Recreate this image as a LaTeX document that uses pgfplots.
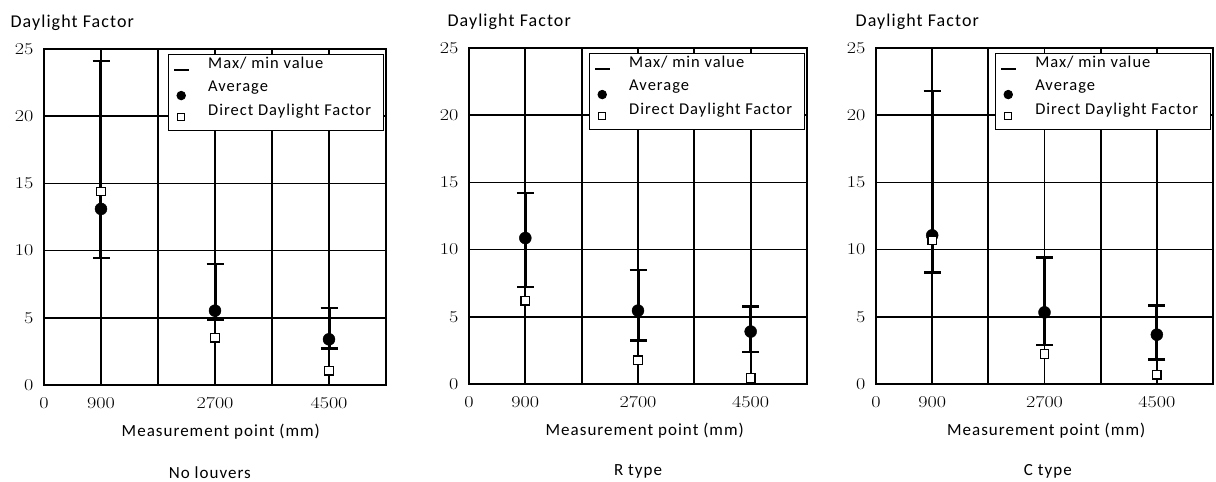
\documentclass[border=0pt]{standalone}
\usepackage{fontspec}
\setmainfont{Carlito}[LetterSpace=6]
\newfontfamily\tickfont{Latin Modern Roman}[FakeStretch=1.22]
\usepackage{pgfplots}
\usepackage{pgfplotstable}
\pgfplotsset{compat=1.18}

\pgfplotstableread{
x avg max min dir
900 13.1 24.1 9.45 14.4
2700 5.53 9.0 4.84 3.52
4500 3.4 5.75 2.73 1.06
}\dataA
\pgfplotstableread{
x avg max min dir
900 10.86 14.2 7.2 6.2
2700 5.46 8.46 3.25 1.76
4500 3.9 5.78 2.38 0.45
}\dataB
\pgfplotstableread{
x avg max min dir
900 11.06 21.8 8.3 10.7
2700 5.33 9.4 2.9 2.23
4500 3.67 5.83 1.81 0.69
}\dataC

\pgfplotsset{
  dfaxis/.style={
    scale only axis, height=336pt,
    anchor=south west,
    xmin=0, xmax=5400, ymin=0, ymax=25,
    xtick={0,900,1800,2700,3600,4500},
    xticklabels={0,900,,2700,,4500},
    ytick={0,5,10,15,20,25},
    major tick length=0pt,
    grid=major, grid style={black, line width=1.7pt},
    axis line style={line width=2.4pt},
    /pgf/number format/assume math mode=true,
    tick label style={font=\tickfont\fontsize{16.5}{16.5}\selectfont},
    xticklabel style={yshift=-9pt},
    yticklabel style={xshift=-7pt},
    clip=false,
    legend style={at={(rel axis cs:0.993,0.985)}, anchor=north east, draw=black, line width=1pt,
      font=\fontsize{16.5}{16.5}\selectfont,
      nodes={inner xsep=2pt, inner ysep=0pt, draw=none, anchor=west},
      inner xsep=0pt, inner ysep=3pt, row sep=0pt,
      /tikz/every even column/.append style={column sep=0pt}},
  },
  avgplot/.style={only marks, mark=*, mark size=6pt, black,
    legend image code/.code={\path[draw=none] (0,-17pt) rectangle (38pt,4pt); \fill[black] (13pt,-8.5pt) circle (4.2pt);},
    error bars/.cd, y dir=both, y explicit,
    error bar style={line width=3pt, black},
    error mark options={rotate=90, mark size=8.5pt, line width=2.4pt, black}},
  dirplot/.style={only marks, mark=square*, mark size=4.2pt, mark options={fill=white, draw=black, line width=1.3pt},
    legend image code/.code={\path[draw=none] (0,-17pt) rectangle (38pt,4pt); \draw[black, fill=white, line width=1.3pt] (9.5pt,-10pt) rectangle (16.5pt,-3pt);}},
}

\newcommand{\panel}[6]{%
  \addlegendimage{legend image code/.code={\path[draw=none] (0,-17pt) rectangle (38pt,4pt); \draw[line width=2.4pt, black] (6pt,-6pt) -- (21pt,-6pt);}}
  \addlegendentry{Max/ min value}
  \addplot[avgplot] table[x=x, y=avg, y error plus expr=\thisrow{max}-\thisrow{avg}, y error minus expr=\thisrow{avg}-\thisrow{min}] {#1};
  \addlegendentry{Average}
  \addplot[dirplot] table[x=x, y=dir] {#1};
  \addlegendentry{Direct Daylight Factor\hspace*{10pt}}
  \node[anchor=west, font=\fontsize{18}{18}\selectfont] at (rel axis cs:#2,1.079) {Daylight Factor};
  \node[anchor=center, font=\fontsize{17}{17}\selectfont] at (rel axis cs:#3,-0.26) {#4};
  \node[anchor=center, font=\fontsize{17}{17}\selectfont] at (rel axis cs:#5,-0.14) {#6};
}

\begin{document}
\begin{tikzpicture}
\useasboundingbox (0,0) rectangle (1216pt,482pt);
\begin{axis}[dfaxis, width=342pt, at={(44pt,97pt)}]
\panel{\dataA}{-0.108}{0.485}{No louvers}{0.517}{Measurement point (mm)}
\end{axis}
\begin{axis}[dfaxis, width=338pt, at={(469pt,98pt)}]
\panel{\dataB}{-0.074}{0.5}{R type}{0.52}{Measurement point (mm)}
\end{axis}
\begin{axis}[dfaxis, width=337pt, at={(876pt,98pt)}]
\panel{\dataC}{-0.071}{0.51}{C type}{0.505}{Measurement point (mm)}
\end{axis}
\end{tikzpicture}
\end{document}
